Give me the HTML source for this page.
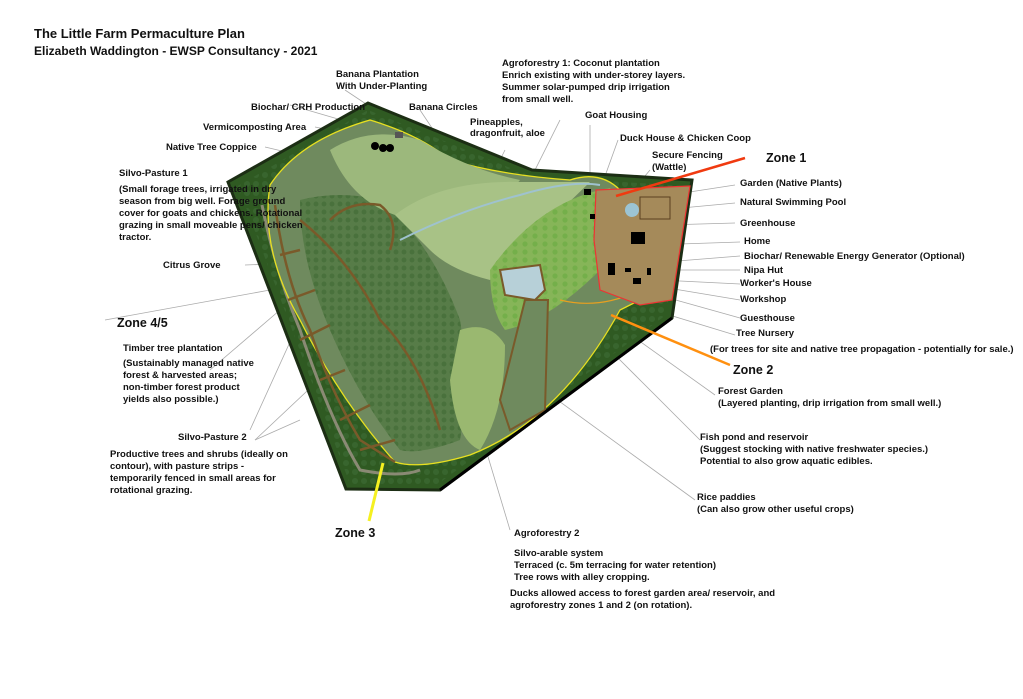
<!DOCTYPE html>
<html><head><meta charset="utf-8"><style>
body{margin:0;background:#fff;}
svg{display:block;font-family:"Liberation Sans",Arial,sans-serif;}
.t{font-size:9.5px;font-weight:bold;fill:#111;}
.h{font-size:13px;font-weight:bold;fill:#111;}
.z{font-size:12.5px;font-weight:bold;fill:#111;}
.l{stroke:#aaa;stroke-width:0.8;fill:none;}
.b{stroke:#7a5a2a;stroke-width:2.5;fill:none;}
</style></head><body>
<svg width="1023" height="699" viewBox="0 0 1023 699">
<defs>
<pattern id="tr" width="9" height="9" patternUnits="userSpaceOnUse"><circle cx="4" cy="4" r="3" fill="#3c6a34" opacity=".7"/></pattern>
<pattern id="tr2" width="10" height="8" patternUnits="userSpaceOnUse"><circle cx="5" cy="4" r="2.6" fill="#6fae46" opacity=".8"/></pattern>
<pattern id="tr3" width="8" height="8" patternUnits="userSpaceOnUse"><circle cx="4" cy="4" r="2.5" fill="#466e3a" opacity=".8"/></pattern>
</defs>
<text x="34" y="38" class="h">The Little Farm Permaculture Plan</text>
<text x="34" y="55" class="h" style="font-size:12px">Elizabeth Waddington - EWSP Consultancy - 2021</text>

<g class="l">
<path d="M290 105 L410 140"/><path d="M315 127 L355 135"/><path d="M265 147 L320 160"/>
<path d="M240 174 L300 180"/><path d="M245 265 L385 260"/><path d="M345 90 L420 140"/>
<path d="M420 110 L460 170"/><path d="M505 150 L480 200"/><path d="M560 120 L520 200"/>
<path d="M590 125 L590 180"/><path d="M618 140 L600 190"/><path d="M650 170 L625 200"/>
<path d="M735 185 L670 195"/><path d="M735 203 L660 210"/><path d="M735 223 L665 225"/>
<path d="M740 242 L650 245"/><path d="M740 256 L665 262"/><path d="M740 270 L660 270"/>
<path d="M740 284 L660 280"/><path d="M740 300 L650 285"/><path d="M740 318 L640 290"/>
<path d="M735 335 L620 300"/><path d="M715 395 L610 320"/><path d="M700 440 L600 340"/>
<path d="M695 500 L530 380"/><path d="M510 530 L480 430"/>
<path d="M105 320 L270 290"/><path d="M210 370 L280 310"/><path d="M250 430 L300 320"/>
<path d="M255 440 L340 360"/><path d="M255 440 L300 420"/>
</g>

<polygon points="228,182 368,103 532,170 692,180 672,318 440,490 346,489" fill="#2f5a22" stroke="#1c2e14" stroke-width="3"/>
<polygon points="238,186 368,110 530,176 685,186 666,315 438,484 350,484" fill="url(#tr)"/>
<path d="M262 205 Q275 270 300 330 Q330 420 360 470 Q400 478 420 470" stroke="#8a8a74" stroke-width="3" fill="none"/>
<path d="M270 185 Q300 140 370 120 Q420 135 450 160 Q500 175 570 180 Q600 170 620 190 L650 195 Q670 250 640 300 L620 310 Q560 420 470 455 Q420 470 395 462 Q340 400 300 320 Q260 250 270 185Z" fill="#6f8a5e" stroke="#e8e020" stroke-width="1.3"/>
<path d="M300 200 Q340 190 380 200 Q430 240 460 320 Q470 380 460 440 Q420 455 400 450 Q360 400 330 330 Q300 260 300 200Z" fill="#577c48"/>
<path d="M300 200 Q340 190 380 200 Q430 240 460 320 Q470 380 460 440 Q420 455 400 450 Q360 400 330 330 Q300 260 300 200Z" fill="url(#tr3)"/>
<path d="M330 150 Q370 125 420 140 Q470 170 520 180 Q480 230 460 260 Q420 230 395 215 Q350 200 330 150Z" fill="#9cb87c"/>
<path d="M395 215 Q440 180 520 182 Q560 182 590 182 Q540 230 490 280 Q450 270 430 250Z" fill="#a8c286"/>
<path d="M490 270 Q540 200 610 188 Q640 230 600 270 Q550 320 505 330 Q490 310 490 270Z" fill="#86b558"/>
<path d="M490 270 Q540 200 610 188 Q640 230 600 270 Q550 320 505 330 Q490 310 490 270Z" fill="url(#tr2)"/>
<path d="M460 330 Q490 320 505 345 Q505 410 480 450 Q455 440 450 380Z" fill="#9ab870"/>
<path class="b" d="M275 205 Q285 280 310 330 Q330 390 360 440 L395 462"/>
<path class="b" d="M300 220 Q350 260 380 320 Q420 360 440 430"/>
<path class="b" d="M280 255 L300 250 M288 300 L315 290 M300 340 L330 325 M320 380 L345 370 M340 420 L370 405 M360 450 L395 440"/>
<path class="b" d="M330 220 Q350 200 380 205 Q400 220 390 250"/>
<path d="M500 270 L540 265 L545 290 L535 300 L505 295 Z" fill="#b7d0d8" stroke="#7a5a2a" stroke-width="2"/>
<path d="M525 300 L548 300 L545 410 L510 430 L500 400 Z" fill="#6f8a5e" stroke="#7a5a2a" stroke-width="2"/>
<path d="M400 240 Q460 210 520 195 Q570 180 600 185" stroke="#9fc2cf" stroke-width="2" fill="none"/>
<path d="M560 300 Q600 310 640 290" stroke="#e8a020" stroke-width="1.2" fill="none"/>
<path d="M596 190 L690 186 L672 300 L640 305 L600 290 L594 240Z" fill="#a58a5a" stroke="#e33" stroke-width="1.2"/>
<circle cx="632" cy="210" r="7" fill="#9cc4d4"/>
<rect x="640" y="197" width="30" height="22" fill="none" stroke="#5a4020" stroke-width="1"/>
<rect x="631" y="232" width="14" height="12" fill="#000"/>
<rect x="608" y="263" width="7" height="12" fill="#000"/><rect x="625" y="268" width="6" height="4" fill="#000"/>
<rect x="633" y="278" width="8" height="6" fill="#000"/><rect x="647" y="268" width="4" height="7" fill="#000"/>
<rect x="584" y="189" width="7" height="6" fill="#000"/><rect x="590" y="214" width="5" height="5" fill="#000"/>
<circle cx="375" cy="146" r="4" fill="#000"/><circle cx="383" cy="148" r="4" fill="#000"/><circle cx="390" cy="148" r="4" fill="#000"/>
<rect x="395" y="132" width="8" height="6" fill="#555"/>
<path d="M440 490 L672 318" stroke="#000" stroke-width="3"/>
<path d="M616 196 L745 158" stroke="#f03a10" stroke-width="2.5"/>
<path d="M611 315 L730 365" stroke="#ff9010" stroke-width="2.5"/>
<path d="M369 521 L383 463" stroke="#f5f020" stroke-width="3"/>

<text x="336" y="77" class="t">Banana Plantation</text><text x="336" y="89" class="t">With Under-Planting</text>
<text x="251" y="110" class="t">Biochar/ CRH Production</text>
<text x="409" y="110" class="t">Banana Circles</text>
<text x="203" y="130" class="t">Vermicomposting Area</text>
<text x="470" y="125" class="t">Pineapples,</text><text x="470" y="136" class="t">dragonfruit, aloe</text>
<text x="502" y="66" class="t">Agroforestry 1: Coconut plantation</text>
<text x="502" y="78" class="t">Enrich existing with under-storey layers.</text>
<text x="502" y="90" class="t">Summer solar-pumped drip irrigation</text>
<text x="502" y="102" class="t">from small well.</text>
<text x="585" y="118" class="t">Goat Housing</text>
<text x="620" y="141" class="t">Duck House &amp; Chicken Coop</text>
<text x="652" y="158" class="t">Secure Fencing</text><text x="652" y="170" class="t">(Wattle)</text>
<text x="766" y="162" class="z">Zone 1</text>
<text x="166" y="150" class="t">Native Tree Coppice</text>
<text x="119" y="176" class="t">Silvo-Pasture 1</text>
<text x="119" y="192" class="t">(Small forage trees, irrigated in dry</text>
<text x="119" y="204" class="t">season from big well. Forage ground</text>
<text x="119" y="216" class="t">cover for goats and chickens. Rotational</text>
<text x="119" y="228" class="t">grazing in small moveable pens/ chicken</text>
<text x="119" y="240" class="t">tractor.</text>
<text x="740" y="186" class="t">Garden (Native Plants)</text>
<text x="740" y="205" class="t">Natural Swimming Pool</text>
<text x="740" y="226" class="t">Greenhouse</text>
<text x="744" y="244" class="t">Home</text>
<text x="744" y="259" class="t">Biochar/ Renewable Energy Generator (Optional)</text>
<text x="744" y="273" class="t">Nipa Hut</text>
<text x="740" y="286" class="t">Worker's House</text>
<text x="740" y="302" class="t">Workshop</text>
<text x="740" y="321" class="t">Guesthouse</text>
<text x="736" y="336" class="t">Tree Nursery</text>
<text x="710" y="352" class="t">(For trees for site and native tree propagation - potentially for sale.)</text>
<text x="733" y="374" class="z">Zone 2</text>
<text x="718" y="394" class="t">Forest Garden</text>
<text x="718" y="406" class="t">(Layered planting, drip irrigation from small well.)</text>
<text x="700" y="440" class="t">Fish pond and reservoir</text>
<text x="700" y="452" class="t">(Suggest stocking with native freshwater species.)</text>
<text x="700" y="464" class="t">Potential to also grow aquatic edibles.</text>
<text x="697" y="500" class="t">Rice paddies</text>
<text x="697" y="512" class="t">(Can also grow other useful crops)</text>
<text x="163" y="268" class="t">Citrus Grove</text>
<text x="117" y="327" class="z">Zone 4/5</text>
<text x="123" y="351" class="t">Timber tree plantation</text>
<text x="123" y="366" class="t">(Sustainably managed native</text>
<text x="123" y="378" class="t">forest &amp; harvested areas;</text>
<text x="123" y="390" class="t">non-timber forest product</text>
<text x="123" y="402" class="t">yields also possible.)</text>
<text x="178" y="440" class="t">Silvo-Pasture 2</text>
<text x="110" y="457" class="t">Productive trees and shrubs (ideally on</text>
<text x="110" y="469" class="t">contour), with pasture strips -</text>
<text x="110" y="481" class="t">temporarily fenced in small areas for</text>
<text x="110" y="493" class="t">rotational grazing.</text>
<text x="335" y="537" class="z">Zone 3</text>
<text x="514" y="536" class="t">Agroforestry 2</text>
<text x="514" y="556" class="t">Silvo-arable system</text>
<text x="514" y="568" class="t">Terraced (c. 5m terracing for water retention)</text>
<text x="514" y="580" class="t">Tree rows with alley cropping.</text>
<text x="510" y="596" class="t">Ducks allowed access to forest garden area/ reservoir, and</text>
<text x="510" y="608" class="t">agroforestry zones 1 and 2 (on rotation).</text>
</svg>
</body></html>
